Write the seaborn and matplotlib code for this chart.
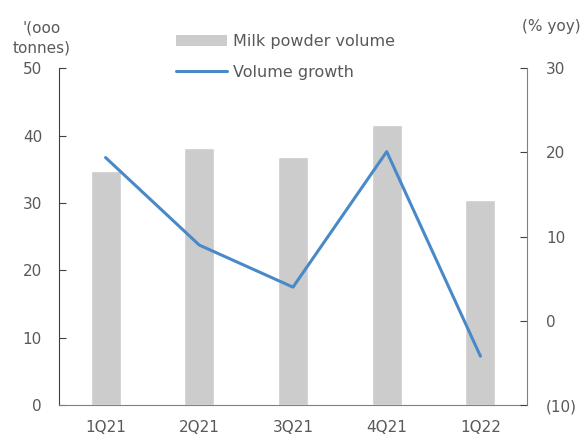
import matplotlib
matplotlib.use("Agg")
import matplotlib.pyplot as plt
import seaborn as sns
import pandas as pd
from matplotlib.patches import Patch
from matplotlib.lines import Line2D

quarters = ["1Q21", "2Q21", "3Q21", "4Q21", "1Q22"]
volume = [34.7, 38.1, 36.9, 41.6, 30.5]
growth = [19.4, 9.0, 4.0, 20.1, -4.2]
left_ticks = [0, 10, 20, 30, 40, 50]
right_ticks = [-10, 0, 10, 20, 30]
right_labels = ["(10)", "0", "10", "20", "30"]

sns.set_style("white")
plt.rcParams["font.family"] = ["DejaVu Sans"]
text_color = "#595959"
bar_color = "#cccccc"
line_color = "#4a89c8"

df = pd.DataFrame({"quarter": quarters, "volume": volume, "growth": growth})

fig = plt.figure(figsize=(5.88, 4.36), dpi=100)
ax = fig.add_axes([58.7 / 588, 1 - 405 / 436, (527.3 - 58.7) / 588, (405 - 68.3) / 436])

sns.barplot(data=df, x="quarter", y="volume", color=bar_color, width=0.32,
            saturation=1, ax=ax)
ax.set_xlim(-0.5, 4.5)
ax.set_ylim(0, 50)
ax.set_yticks(left_ticks)
ax.set_xlabel("")
ax.set_ylabel("")

ax2 = ax.twinx()
sns.lineplot(x=list(range(len(quarters))), y=growth, color=line_color,
             linewidth=2.2, ax=ax2)
ax2.set_ylim(-10, 30)
ax2.set_yticks(right_ticks)
ax2.set_yticklabels(right_labels)
ax2.set_xlim(-0.5, 4.5)

for a in (ax, ax2):
    a.spines["top"].set_visible(False)
    a.tick_params(colors=text_color, labelsize=11, direction="in", length=5)

ax.spines["left"].set_color("#404040")
ax.spines["bottom"].set_color("#808080")
ax.spines["right"].set_visible(False)
ax2.spines["left"].set_visible(False)
ax2.spines["bottom"].set_visible(False)
ax2.spines["right"].set_color("#808080")
ax.tick_params(axis="y", colors="#404040", labelcolor=text_color, pad=12)
ax2.tick_params(axis="y", colors="#404040", labelcolor=text_color, pad=13.5)

# x ticks sit between categories; labels centred under each bar
ax.set_xticks([0.5, 1.5, 2.5, 3.5])
ax.set_xticklabels([])
ax.set_xticks(range(len(quarters)), minor=True)
ax.set_xticklabels(quarters, minor=True)
ax.tick_params(axis="x", which="major", direction="in", length=5, color="#404040")
ax.tick_params(axis="x", which="minor", length=0, pad=11, labelcolor=text_color,
               labelsize=11)

fig.text(42 / 588, 1 - 38 / 436, "'(ooo\ntonnes)", ha="center", va="center",
         fontsize=11, color=text_color, linespacing=1.35)
fig.text(551 / 588, 1 - 27 / 436, "(% yoy)", ha="center", va="center",
         fontsize=11, color=text_color)

handles = [Patch(facecolor=bar_color, edgecolor="none"),
           Line2D([0], [0], color=line_color, linewidth=2.2)]
fig.legend(handles, ["Milk powder volume", "Volume growth"],
           loc="upper left", bbox_to_anchor=(176 / 588, 1 - 34 / 436),
           frameon=False, fontsize=11.5, labelcolor=text_color,
           handlelength=3.2, handletextpad=0.37, labelspacing=1.0,
           borderaxespad=0, borderpad=0)

fig.savefig("out.png", dpi=100)
